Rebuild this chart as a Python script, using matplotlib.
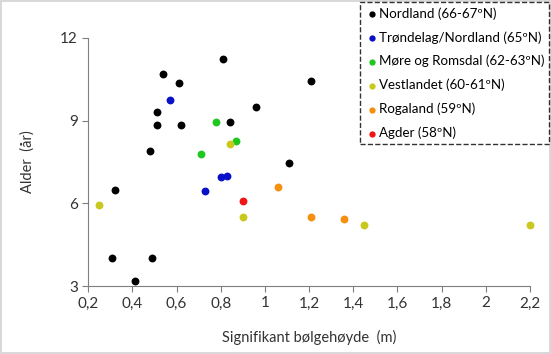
import matplotlib.pyplot as plt

# data per region (x = significant wave height, y = age)
nordland_x = [0.31, 0.32, 0.49, 0.41, 0.81, 0.54, 0.61, 0.51, 0.51, 0.62, 0.84, 0.96, 0.48, 1.11, 1.21]
nordland_y = [4.0, 6.5, 4.0, 3.2, 11.25, 10.7, 10.35, 9.3, 8.85, 8.85, 8.95, 9.5, 7.9, 7.45, 10.45]
trondelag_x = [0.57, 0.80, 0.83, 0.73]
trondelag_y = [9.75, 6.95, 7.0, 6.45]
more_x = [0.78, 0.87, 0.71]
more_y = [8.95, 8.25, 7.8]
vest_x = [0.84, 0.25, 0.90, 1.45, 2.2]
vest_y = [8.15, 5.95, 5.5, 5.2, 5.2]
rogaland_x = [1.06, 1.21, 1.36]
rogaland_y = [6.6, 5.5, 5.42]
agder_x = [0.90]
agder_y = [6.1]

labels = ["Nordland (66-67ºN)", "Trøndelag/Nordland (65ºN)", "Møre og Romsdal (62-63ºN)",
          "Vestlandet (60-61ºN)", "Rogaland (59ºN)", "Agder (58ºN)"]
colors = ["#000000", "#0a10c8", "#1ec81e", "#c8c81e", "#f5900f", "#f01414"]
xs = [nordland_x, trondelag_x, more_x, vest_x, rogaland_x, agder_x]
ys = [nordland_y, trondelag_y, more_y, vest_y, rogaland_y, agder_y]

x_ticks = [0.2, 0.4, 0.6, 0.8, 1.0, 1.2, 1.4, 1.6, 1.8, 2.0, 2.2]
x_ticklabels = ["0,2", "0,4", "0,6", "0,8", "1", "1,2", "1,4", "1,6", "1,8", "2", "2,2"]
y_ticks = [3, 6, 9, 12]

plt.rcParams['font.family'] = ['Lato', 'DejaVu Sans']

fig = plt.figure(figsize=(5.51, 3.54), dpi=100)
fig.patch.set_edgecolor("#d9d9d9")
fig.patch.set_linewidth(1.5)
ax = fig.add_axes([0.160, 0.192, 0.802, 0.701])

for x, y, c, lab in zip(xs, ys, colors, labels):
    ax.scatter(x, y, s=32, color=c, label=lab, zorder=3, linewidths=0, clip_on=False)

ax.set_xlim(0.2, 2.2)
ax.set_ylim(3, 12)
ax.set_xticks(x_ticks)
ax.set_xticklabels(x_ticklabels)
ax.set_yticks(y_ticks)
ax.tick_params(labelsize=11, color="#7f7f7f", length=4, labelcolor="#333333")
ax.spines['top'].set_visible(False)
ax.spines['right'].set_visible(False)
ax.spines['left'].set_color("#7f7f7f")
ax.spines['bottom'].set_color("#7f7f7f")

ax.set_xlabel("Signifikant bølgehøyde  (m)", fontsize=10.5, labelpad=14, color="#333333")
ax.set_ylabel("Alder  (år)", fontsize=10.5, labelpad=18, color="#333333")

h, l = ax.get_legend_handles_labels()
leg = fig.legend(h, l, loc="upper right", bbox_to_anchor=(0.997, 0.993), fontsize=9.6,
                 handletextpad=0.0, handlelength=1.1, markerscale=0.8, labelspacing=0.85,
                 fancybox=False, borderpad=0.35, borderaxespad=0)
leg.get_frame().set_edgecolor("black")
leg.get_frame().set_linestyle("--")
leg.get_frame().set_linewidth(1.0)

fig.savefig("out.png", dpi=100)
